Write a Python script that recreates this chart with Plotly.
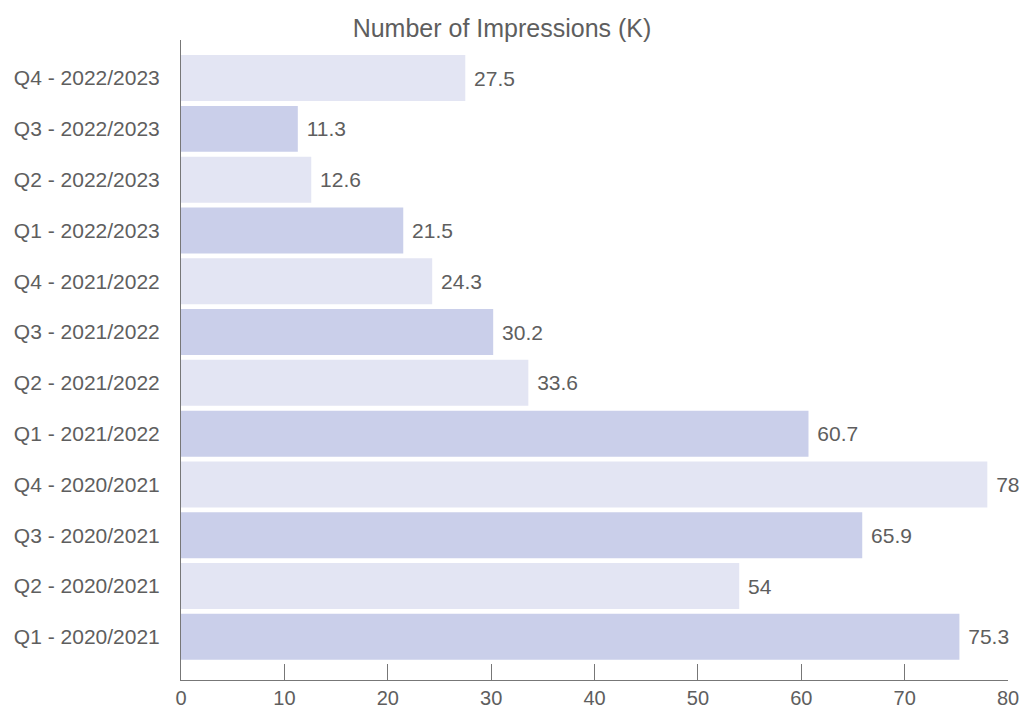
import plotly.graph_objects as go

categories = ["Q1 - 2020/2021", "Q2 - 2020/2021", "Q3 - 2020/2021", "Q4 - 2020/2021",
              "Q1 - 2021/2022", "Q2 - 2021/2022", "Q3 - 2021/2022", "Q4 - 2021/2022",
              "Q1 - 2022/2023", "Q2 - 2022/2023", "Q3 - 2022/2023", "Q4 - 2022/2023"]
values = [75.3, 54, 65.9, 78, 60.7, 33.6, 30.2, 24.3, 21.5, 12.6, 11.3, 27.5]
x_ticks = [0, 10, 20, 30, 40, 50, 60, 70, 80]

dark = "#cacfea"
light = "#e3e5f3"
colors = [dark if i % 2 == 0 else light for i in range(len(values))]

fnt = "Liberation Sans, Arial, sans-serif"
txt_col = "#5e5e5e"

fig = go.Figure(go.Bar(
    y=categories, x=values, orientation="h",
    marker=dict(color=colors, line=dict(width=0)),
    text=values, texttemplate=" %{x}", textposition="outside",
    textfont=dict(family=fnt, size=21, color=txt_col),
    cliponaxis=False,
))

W, H = 1023, 708
fig.update_layout(
    width=W, height=H,
    margin=dict(l=181, r=15, t=40, b=28, autoexpand=False),
    paper_bgcolor="white", plot_bgcolor="white",
    showlegend=False,
    bargap=0.095,
    uniformtext=dict(minsize=21, mode="show"),
    title=dict(text="Number of Impressions (K)", x=502 / W, xanchor="center",
               y=1 - 28 / H, yanchor="middle", yref="container",
               automargin=False,
               font=dict(family=fnt, size=25, color=txt_col)),
    xaxis=dict(range=[0, 80], tickvals=x_ticks, showgrid=False, zeroline=False,
               automargin=False,
               showline=True, linecolor="#777777", linewidth=1,
               ticks="inside", ticklen=16, tickcolor="#777777",
               tickfont=dict(family=fnt, size=20, color=txt_col)),
    yaxis=dict(range=[-0.85, 11.75], showgrid=False, zeroline=False,
               automargin=False,
               showline=True, linecolor="#777777", linewidth=1,
               ticks="", ticklabelstandoff=16,
               tickfont=dict(family=fnt, size=21, color=txt_col)),
)

fig.write_html(
    "out.html",
    config={"displayModeBar": False},
    post_script="document.body.style.margin='0';document.body.style.overflow='hidden';"
                "document.documentElement.style.overflow='hidden';",
)
